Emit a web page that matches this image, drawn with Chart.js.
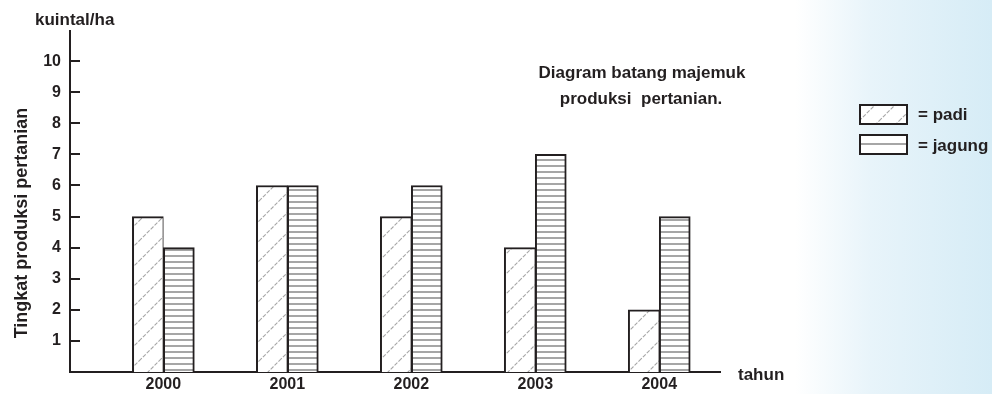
<!DOCTYPE html>
<html>
<head>
<meta charset="utf-8">
<script src="https://cdn.jsdelivr.net/npm/chart.js@4.4.1/dist/chart.umd.min.js"></script>
<style>
  html, body { margin: 0; padding: 0; }
  body {
    width: 992px;
    height: 394px;
    overflow: hidden;
    background: linear-gradient(to right, #ffffff 0px, #ffffff 795px, #e8f4fa 870px, #d6ecf6 992px);
  }
  canvas { display: block; }
</style>
</head>
<body>
<canvas id="myChart" width="992" height="394"></canvas>
<script>
/* data */
const years = ["2000", "2001", "2002", "2003", "2004"];
const padi = [5, 6, 5, 4, 2];
const jagung = [4, 6, 6, 7, 5];
const yTicks = [1, 2, 3, 4, 5, 6, 7, 8, 9, 10];

const inkColor = "#231f20";
const hatchColor = "#a6a6a6";
const fontFamily = "'Liberation Sans', Arial, sans-serif";

let ctx = document.getElementById("myChart");
let g2d = ctx.getContext("2d");

/* hatch patterns */
function diagonalPattern() {
  let size = 20;
  let c = document.createElement("canvas");
  c.width = size;
  c.height = size;
  let g = c.getContext("2d");
  g.fillStyle = "#ffffff";
  g.fillRect(0, 0, size, size);
  g.strokeStyle = hatchColor;
  g.lineWidth = 1.1;
  g.setLineDash([4, 1.5]);
  g.beginPath();
  g.moveTo(-1, size + 1);
  g.lineTo(size + 1, -1);
  g.moveTo(-1, 1);
  g.lineTo(1, -1);
  g.moveTo(size - 1, size + 1);
  g.lineTo(size + 1, size - 1);
  g.stroke();
  return g2d.createPattern(c, "repeat");
}

function stripePattern() {
  let c = document.createElement("canvas");
  c.width = 6;
  c.height = 6;
  let g = c.getContext("2d");
  g.fillStyle = "#ffffff";
  g.fillRect(0, 0, 6, 6);
  g.fillStyle = hatchColor;
  g.fillRect(0, 3, 6, 2);
  return g2d.createPattern(c, "repeat");
}

const padiFill = diagonalPattern();
const jagungFill = stripePattern();

function font(size) {
  return "bold " + size + "px " + fontFamily;
}

/* extra drawing: tick marks, titles, legend */
const decorations = {
  id: "decorations",
  afterDraw(chart) {
    let c = chart.ctx;
    let area = chart.chartArea;
    let y = chart.scales.y;
    c.save();

    // tick marks inside the plot
    c.strokeStyle = inkColor;
    c.lineWidth = 2;
    yTicks.forEach((v) => {
      let py = Math.round(y.getPixelForValue(v));
      c.beginPath();
      c.moveTo(area.left, py);
      c.lineTo(area.left + 10, py);
      c.stroke();
    });

    c.fillStyle = inkColor;
    c.font = font(17);
    c.textBaseline = "alphabetic";
    c.textAlign = "left";
    c.fillText("kuintal/ha", 35, 25);
    c.fillText("tahun", 738, 380);

    c.textAlign = "center";
    c.fillText("Diagram batang majemuk", 642, 78);
    c.fillText("produksi  pertanian.", 641, 104);

    // y axis title
    c.save();
    c.font = font(18);
    c.translate(27, 223);
    c.rotate(-Math.PI / 2);
    c.textAlign = "center";
    c.fillText("Tingkat produksi pertanian", 0, 0);
    c.restore();

    // legend
    c.fillStyle = padiFill;
    c.fillRect(860, 105, 47, 19);
    c.fillStyle = "#ffffff";
    c.fillRect(860, 135, 47, 19);
    c.fillStyle = hatchColor;
    c.fillRect(860, 143, 47, 2);
    c.strokeStyle = inkColor;
    c.lineWidth = 2;
    c.strokeRect(860, 105, 47, 19);
    c.strokeRect(860, 135, 47, 19);

    c.fillStyle = inkColor;
    c.textAlign = "left";
    c.fillText("= padi", 918, 120);
    c.fillText("= jagung", 918, 151);

    c.restore();
  },
};

let data = {
  datasets: [
    {
      label: "padi",
      data: padi.map((v, i) => ({ x: i, y: v })),
      backgroundColor: padiFill,
      borderColor: inkColor,
      borderWidth: { top: 2, left: 2, right: 1, bottom: 0 },
      borderSkipped: false,
    },
    {
      label: "jagung",
      data: jagung.map((v, i) => ({ x: i, y: v })),
      backgroundColor: jagungFill,
      borderColor: inkColor,
      borderWidth: { top: 2, left: 2, right: 2, bottom: 0 },
      borderSkipped: false,
    },
  ],
};

let barChart = new Chart(ctx, {
  type: "bar",
  data: data,
  options: {
    responsive: false,
    animation: false,
    events: [],
    barThickness: 31,
    layout: {
      padding: { top: 31, right: 272, bottom: 0, left: 0 },
    },
    plugins: {
      legend: { display: false },
      tooltip: { enabled: false },
    },
    scales: {
      x: {
        type: "linear",
        offset: false,
        bounds: "data",
        min: -0.753,
        max: 4.49,
        afterBuildTicks: (scale) => {
          scale.ticks = years.map((_, i) => ({ value: i }));
        },
        afterFit: (scale) => {
          scale.height = 22;
        },
        grid: { display: false, drawTicks: false, offset: false },
        border: { display: true, color: inkColor, width: 2 },
        ticks: {
          autoSkip: false,
          maxRotation: 0,
          padding: 3,
          color: inkColor,
          font: { family: fontFamily, size: 16, weight: "bold" },
          callback: (v) => years[v],
        },
      },
      y: {
        min: 0,
        max: 10.97,
        afterBuildTicks: (scale) => {
          scale.ticks = yTicks.map((v) => ({ value: v }));
        },
        afterFit: (scale) => {
          scale.width = 70;
        },
        grid: { display: false, drawTicks: false },
        border: { display: true, color: inkColor, width: 2 },
        ticks: {
          padding: 9,
          color: inkColor,
          font: { family: fontFamily, size: 16, weight: "bold" },
        },
      },
    },
  },
  plugins: [decorations],
});
</script>
</body>
</html>
